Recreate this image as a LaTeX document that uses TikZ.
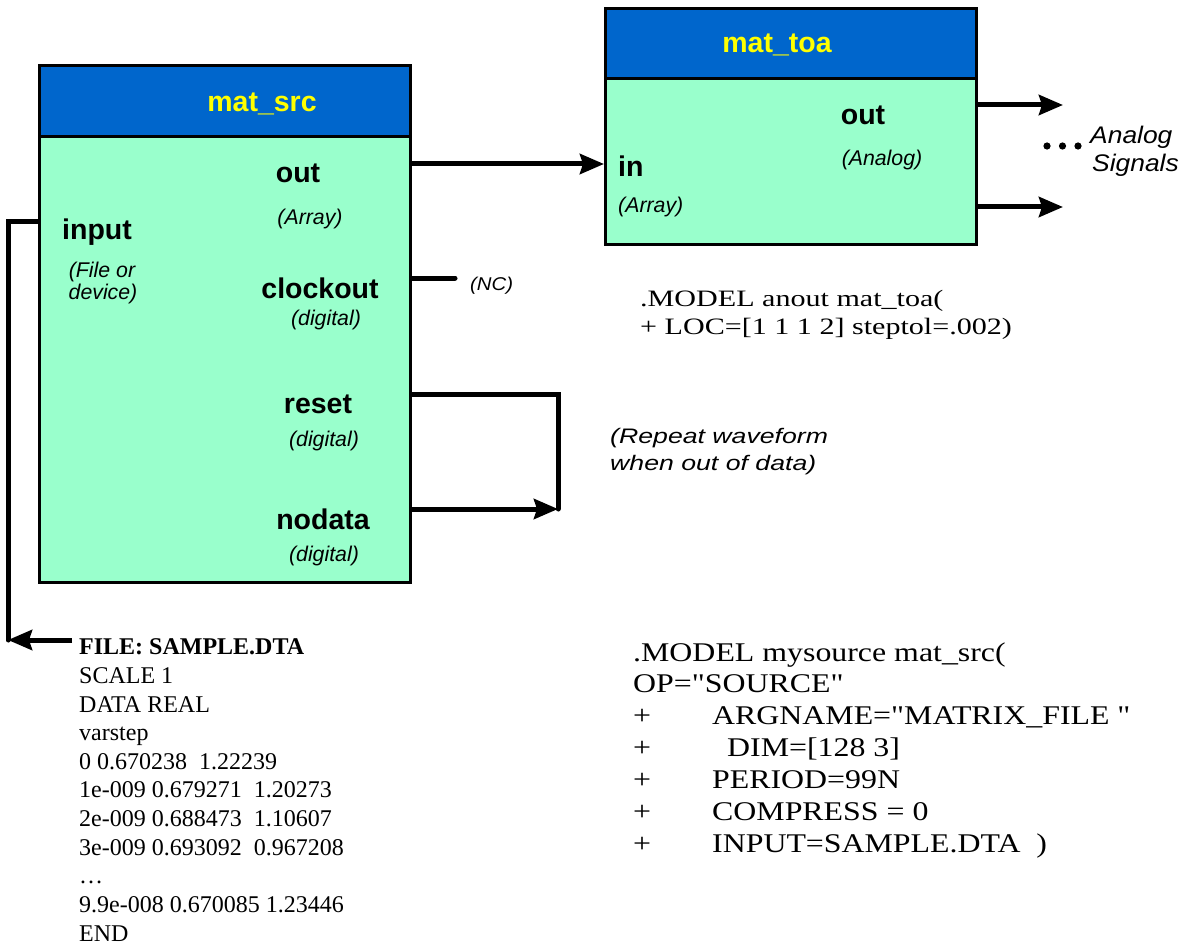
\documentclass[tikz,border=0pt]{standalone}
\usepackage{fontspec}
\setmainfont{Liberation Serif}
\setsansfont{Liberation Sans}
\newfontfamily\serA[FakeStretch=1.28]{Liberation Serif}
\newfontfamily\serB[FakeStretch=1.18]{Liberation Serif}
\newfontfamily\sanW[FakeStretch=1.27]{Liberation Sans}
\newfontfamily\sanNC[FakeStretch=1.1]{Liberation Sans}
\newfontfamily\sanAn[FakeStretch=1.1]{Liberation Sans}
\usetikzlibrary{arrows.meta}
\definecolor{hdrblue}{HTML}{0066CC}
\definecolor{bodygreen}{HTML}{99FFCC}
\definecolor{ttlyellow}{HTML}{FFFF00}
\begin{document}
\begin{tikzpicture}[x=1pt,y=-1pt,
  hdr/.style={draw=black,line width=3pt,fill=hdrblue,anchor=north west,inner sep=0pt,minimum width=371pt,minimum height=71pt},
  body/.style={draw=black,line width=3pt,fill=bodygreen,anchor=north west,inner sep=0pt,minimum width=371pt},
  ttl/.style={inner sep=0pt,anchor=base,text=ttlyellow,font=\sffamily\bfseries\fontsize{28.5}{34}\selectfont},
  lbl/.style={inner sep=0pt,anchor=base,font=\sffamily\bfseries\fontsize{28.5}{34}\selectfont},
  sub/.style={inner sep=0pt,anchor=base,font=\sffamily\itshape\fontsize{21.3}{25}\selectfont},
  conn/.style={draw=black,line width=5pt,line cap=round},
  arr/.style={conn,line cap=butt,-{Stealth[length=24pt,width=20pt,inset=3pt]}},
  filetxt/.style={inner sep=0pt,anchor=base west,font=\rmfamily\fontsize{24}{28.7}\selectfont},
  modA/.style={inner sep=0pt,anchor=base west,font=\serA\fontsize{23.5}{28}\selectfont},
  modB/.style={inner sep=0pt,anchor=base west,font=\serB\fontsize{27}{32}\selectfont},
  note/.style={inner sep=0pt,anchor=base west,font=\sanW\itshape\fontsize{21}{27}\selectfont}
]
\useasboundingbox[fill=white] (0,0) rectangle (1183,944);

% mat_src block
\node[hdr] (srchead) at (38,64) {};
\node[body,minimum height=446pt] (srcbody) at (38,135) {};
\node[ttl] (srcttl) at (262,112) {mat\_src};
\node[lbl] (srcout) at (298,183) {out};
\node[sub] (srcouttype) at (310,225) {(Array)};
\node[lbl] (srcin) at (97,240) {input};
\node[sub] (srcintype1) at (102,277) {(File or};
\node[sub] (srcintype2) at (103,299) {device)};
\node[lbl] (srcclk) at (320,298) {clockout};
\node[sub] (srcclktype) at (326,325) {(digital)};
\node[lbl] (srcreset) at (318,413) {reset};
\node[sub] (srcresettype) at (324,446) {(digital)};
\node[lbl] (srcnodata) at (323,529) {nodata};
\node[sub] (srcnodatatype) at (324,561) {(digital)};

% mat_toa block
\node[hdr] (toahead) at (604,7) {};
\node[body,minimum height=166pt] (toabody) at (604,77) {};
\node[ttl] (toattl) at (777,53) {mat\_toa};
\node[lbl,anchor=base west] (toain) at (618,177) {in};
\node[sub,anchor=base west] (toaintype) at (618,213) {(Array)};
\node[lbl] (toaout) at (863,125) {out};
\node[sub] (toaouttype) at (882,166) {(Analog)};

% ports and free ends
\coordinate (pSrcOut) at (srcbody.east |- 0,164);
\coordinate (pToaIn) at (toabody.west |- 0,164);
\coordinate (pClk) at (srcbody.east |- 0,278);
\coordinate (ncEnd) at (455,278);
\coordinate (pReset) at (srcbody.east |- 0,394);
\coordinate (pNodata) at (srcbody.east |- 0,509);
\coordinate (loopEnd) at (558,509);
\coordinate (pInput) at (srcbody.west |- 0,222);
\coordinate (inCorner) at (8,640);
\coordinate (fileTail) at (72,640);
\coordinate (pToaOut1) at (toabody.east |- 0,105);
\coordinate (pToaOut2) at (toabody.east |- 0,207);
\coordinate (aEnd1) at (1063,105);
\coordinate (aEnd2) at (1063,207);

% connectors
\draw[arr] (pSrcOut) -- (pToaIn);
\draw[conn] (pClk) -- (ncEnd);
\draw[conn] (pReset) -| (loopEnd);
\draw[arr] (pNodata) -- (loopEnd);
\draw[conn] (pInput) -| (inCorner);
\draw[arr] (fileTail) -- (inCorner);
\draw[arr] (pToaOut1) -- (aEnd1);
\draw[arr] (pToaOut2) -- (aEnd2);

% side notes
\node[inner sep=0pt,anchor=base west,font=\sanNC\itshape\fontsize{18.5}{22}\selectfont] (nc) at (470,290) {(NC)};
\node[note] (rep1) at (610,443) {(Repeat waveform};
\node[note] (rep2) at (610,470) {when out of data)};
\fill (1047,146) circle (3.6pt) (1062.5,146) circle (3.6pt) (1078,146) circle (3.6pt);
\node[inner sep=0pt,anchor=base west,font=\sanAn\itshape\fontsize{24}{28}\selectfont] (an1) at (1090,144) {Analog};
\node[inner sep=0pt,anchor=base west,font=\sanAn\itshape\fontsize{24}{28}\selectfont] (an2) at (1092,172) {Signals};

% model for mat_toa
\node[modA] (ma1) at (640,306) {.MODEL anout mat\_toa(};
\node[modA] (ma2) at (640,334) {+ LOC=[1 1 1 2] steptol=.002)};

% data file
\node[filetxt,font=\rmfamily\bfseries\fontsize{24}{28.7}\selectfont] (f0) at (79,654) {FILE: SAMPLE.DTA};
\node[filetxt] (f1) at (79,683) {SCALE 1};
\node[filetxt] (f2) at (79,712) {DATA REAL};
\node[filetxt] (f3) at (79,740) {varstep};
\node[filetxt] (f4) at (79,769) {0 0.670238\ \ 1.22239};
\node[filetxt] (f5) at (79,797) {1e-009 0.679271\ \ 1.20273};
\node[filetxt] (f6) at (79,826) {2e-009 0.688473\ \ 1.10607};
\node[filetxt] (f7) at (79,855) {3e-009 0.693092\ \ 0.967208};
\node[filetxt] (f8) at (79,883) {\dots};
\node[filetxt] (f9) at (79,912) {9.9e-008 0.670085 1.23446};
\node[filetxt] (f10) at (79,941) {END};

% model for mat_src
\node[modB] (mb1) at (633,661) {.MODEL mysource mat\_src(};
\node[modB] (mb2) at (633,692) {OP="SOURCE"};
\node[modB] (mb3) at (633,724) {\makebox[79pt][l]{+}ARGNAME="MATRIX\_FILE\ "};
\node[modB] (mb4) at (633,756) {\makebox[79pt][l]{+}\hspace{15pt}DIM=[128 3]};
\node[modB] (mb5) at (633,788) {\makebox[79pt][l]{+}PERIOD=99N};
\node[modB] (mb6) at (633,820) {\makebox[79pt][l]{+}COMPRESS = 0};
\node[modB] (mb7) at (633,852) {\makebox[79pt][l]{+}INPUT=SAMPLE.DTA\ \ )};
\end{tikzpicture}
\end{document}
